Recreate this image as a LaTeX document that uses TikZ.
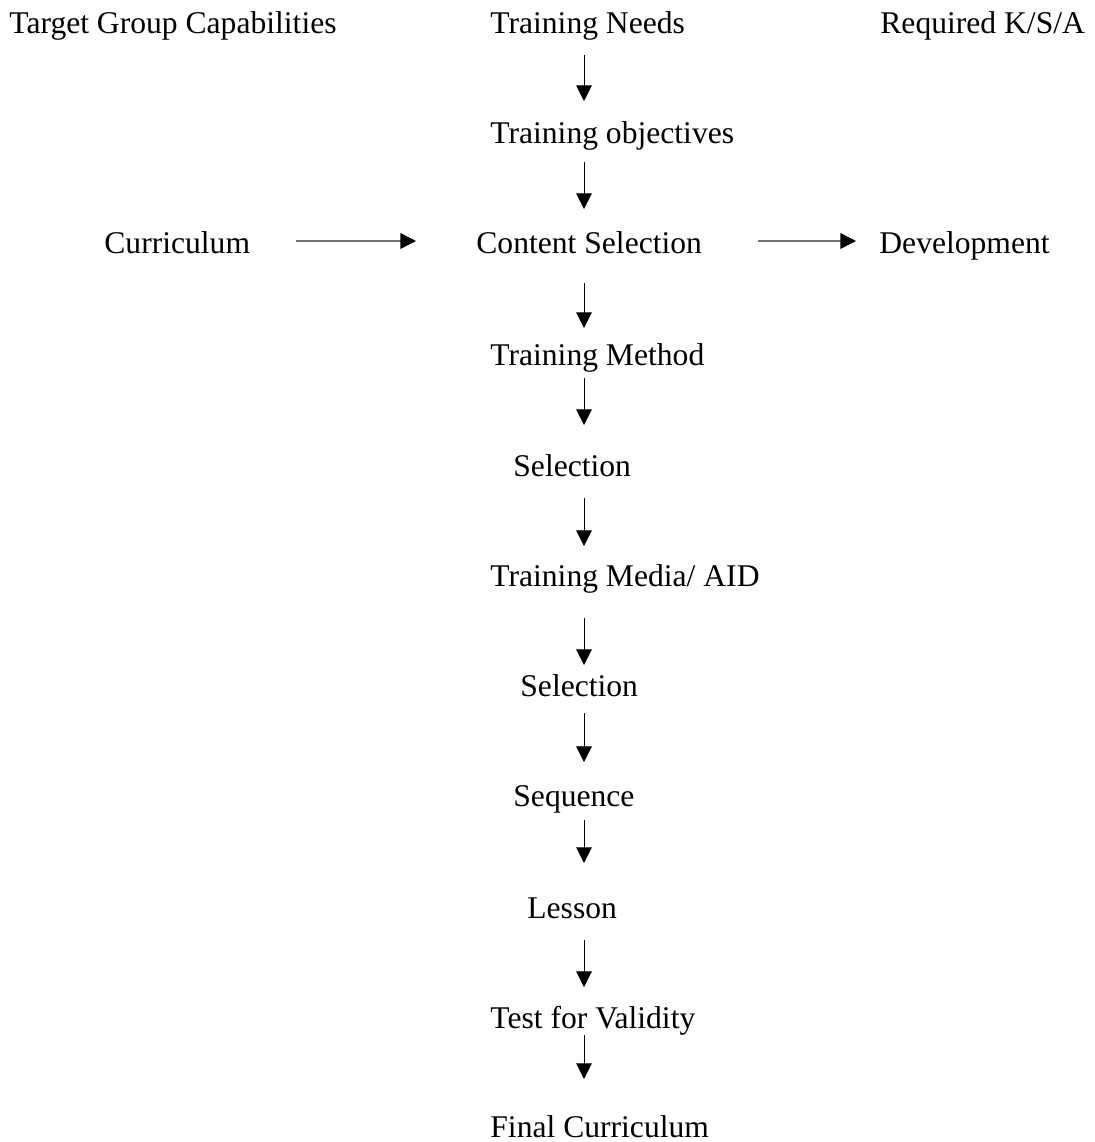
\documentclass[tikz,border=0pt]{standalone}
\usepackage{fontspec}
\setmainfont{Liberation Serif}
\usetikzlibrary{arrows.meta,calc}
\begin{document}
\begin{tikzpicture}[x=0.5pt,y=-0.5pt,
  lbl/.style={anchor=base west,inner sep=0pt,font=\fontsize{15.8}{19}\selectfont},
  arr/.style={-{Triangle[width=7.8pt,length=7.8pt]},line width=0.5pt,black},
  harr/.style={-{Triangle[width=7.8pt,length=7.8pt,color=black]},line width=0.7pt,draw=black!55}]
\useasboundingbox (0,0) rectangle (1094,1142);
\coordinate (col) at (584,0);
% header row
\node[lbl] (tgc) at (9,33) {Target Group Capabilities};
\node[lbl] (n0) at (490,33) {Training Needs};
\node[lbl] (ksa) at (880,33) {Required K/S/A};
% column
\node[lbl] (n1) at (490,143) {Training objectives};
\node[lbl] (cur) at (104,253) {Curriculum};
\node[lbl] (n2) at (476,253) {Content Selection};
\node[lbl] (dev) at (879,253) {Development};
\node[lbl] (n3) at (490,365) {Training Method};
\node[lbl] (n4) at (513,476) {Selection};
\node[lbl] (n5) at (490,586) {Training Media/ AID};
\node[lbl] (n6) at (520,696) {Selection};
\node[lbl] (n7) at (513,806) {Sequence};
\node[lbl] (n8) at (527,918) {Lesson};
\node[lbl] (n9) at (490,1028) {Test for Validity};
\node[lbl] (n10) at (490,1137) {Final Curriculum};
% vertical arrows
\draw[arr] ($(n0.base -| col)+(0,22)$) -- ($(n1.base -| col)+(0,-42)$);
\draw[arr] ($(n1.base -| col)+(0,19)$) -- ($(n2.base -| col)+(0,-44)$);
\draw[arr] ($(n2.base -| col)+(0,30)$) -- ($(n3.base -| col)+(0,-37)$);
\draw[arr] ($(n3.base -| col)+(0,13)$) -- ($(n4.base -| col)+(0,-51)$);
\draw[arr] ($(n4.base -| col)+(0,22)$) -- ($(n5.base -| col)+(0,-40)$);
\draw[arr] ($(n5.base -| col)+(0,32)$) -- ($(n6.base -| col)+(0,-31)$);
\draw[arr] ($(n6.base -| col)+(0,17)$) -- ($(n7.base -| col)+(0,-44)$);
\draw[arr] ($(n7.base -| col)+(0,14)$) -- ($(n8.base -| col)+(0,-55)$);
\draw[arr] ($(n8.base -| col)+(0,22)$) -- ($(n9.base -| col)+(0,-41)$);
\draw[arr] ($(n9.base -| col)+(0,7)$) -- ($(n10.base -| col)+(0,-58)$);
% horizontal arrows
\draw[harr] ($(cur.base west)+(192,-12)$) -- ($(n2.base west)+(-60,-12)$);
\draw[harr] ($(n2.base west)+(282,-12)$) -- ($(dev.base west)+(-23,-12)$);
\end{tikzpicture}
\end{document}
